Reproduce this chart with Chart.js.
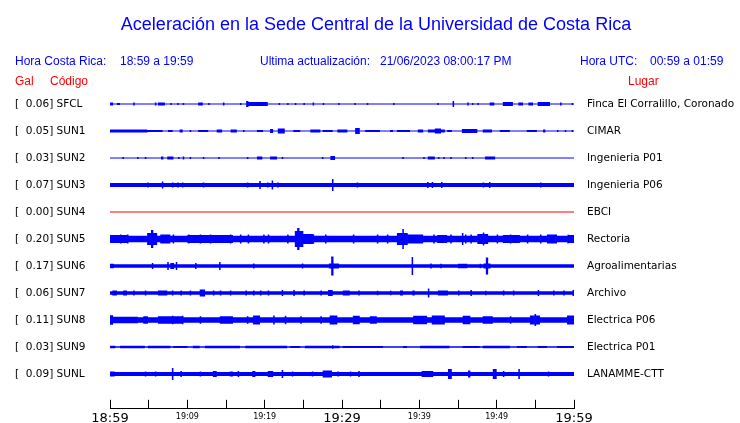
<!DOCTYPE html>
<html><head><meta charset="utf-8">
<script src="https://cdn.jsdelivr.net/npm/chart.js@4"></script>
<style>html,body{margin:0;padding:0;background:#fff;overflow:hidden}#wrap{width:740px;height:423px;position:relative}</style>
</head><body><div id="wrap"><canvas id="c" width="740" height="423"></canvas></div>
<script>
// ---------- DATA ----------
const titleText = 'Aceleración en la Sede Central de la Universidad de Costa Rica';
const headerCR = ['Hora Costa Rica:', '18:59 a 19:59'];
const headerUpd = ['Ultima actualización:', '21/06/2023 08:00:17 PM'];
const headerUTC = ['Hora UTC:', '00:59 a 01:59'];
const colHeads = ['Gal', 'Código', 'Lugar'];
const stations = ['SFCL','SUN1','SUN2','SUN3','SUN4','SUN5','SUN6','SUN7','SUN8','SUN9','SUNL'];
const peakGal = [0.06,0.05,0.03,0.07,0.00,0.20,0.17,0.06,0.11,0.03,0.09];
const places = ['Finca El Corralillo, Coronado','CIMAR','Ingenieria P01','Ingenieria P06','EBCI','Rectoria','Agroalimentarias','Archivo','Electrica P06','Electrica P01','LANAMME-CTT'];
const tickLabels = ['18:59','','19:09','','19:19','','19:29','','19:39','','19:49','','19:59'];
const majorTickLabels = ['18:59','19:29','19:59'];
// background half-amplitude of each trace (display counts)
const baseAmp = [0.5,0.5,0.5,2,0.5,3.3,1.7,1.7,2.8,0.7,2];
// envelope events: [startMin, endMin, halfAmp] or [min, halfAmp] (single spike)
const ev_SFCL = [[0,0.4,1.5],[0.9,1.3,1],[3.0,1.5],[5.8,1.5],[6.2,7.1,1.5],[7.8,1],[8.7,1],[9.4,1],[11.4,12.0,1.5],[12.7,1],[14.6,1.5],[16.8,1],[17.6,17.9,3],[17.9,20.4,2],[21.8,1],[22.9,1],[23.9,1],[25.0,1],[26.2,1.5],[27.5,1],[29.5,1],[31.6,1],[33.2,1],[36.6,1],[42.3,1],[44.3,44.5,3],[46.2,1.5],[46.8,1],[47.5,1],[49.1,49.7,1.5],[50.8,52.1,2],[52.8,53.4,1.5],[54.1,54.7,1.5],[55.3,56.9,2],[58.2,1.5],[59.7,1]];
const ev_SUN1 = [[0,4.8,1.4],[4.9,6.8,1],[7.5,8.1,1],[9.0,9.4,1.5],[10.3,1],[11.4,12.7,1],[13.8,14.5,1.5],[15.6,16.4,1.5],[17.2,1],[19.0,19.8,1],[20.7,21.1,2],[21.7,22.6,2.5],[23.7,24.6,1],[25.9,27.2,1.5],[27.5,28.8,1],[29.4,30.7,1.5],[31.7,32.3,3],[33.0,34.9,1],[36.2,36.6,1],[37.1,38.8,1],[39.8,40.5,1.5],[41.1,43.3,1.5],[42.0,42.8,2.5],[43.6,44.2,1],[45.5,47.5,2],[48.2,49.4,1.5],[50.4,51.7,1],[53.9,55.2,1],[56.0,56.3,1.5],[57.8,1],[58.8,1],[59.7,1]];
const ev_SUN2 = [[1.6,1],[3.5,1],[4.5,1],[6.6,6.9,1.5],[7.4,8.2,1.5],[8.8,1],[9.4,1.5],[10.3,1],[12.0,1],[14.0,1],[17.7,1],[19.0,19.7,1.5],[20.7,21.6,1.5],[22.2,1],[27.4,1],[28.5,29.1,2],[37.8,1],[40.5,1],[41.1,42.0,1.5],[42.4,1],[43.1,1],[44.0,1],[45.9,1],[46.8,1],[48.5,49.8,1.5]];
const ev_SUN3 = [[4.8,2.5],[6.7,3.5],[8.0,2.5],[8.7,2.5],[9.3,2.5],[12.0,2.5],[17.7,2.5],[19.3,4],[20.3,2.5],[20.9,4.5],[21.6,2.5],[28.7,6],[31.9,2.5],[41.0,3],[41.6,3],[42.8,3],[48.2,2.5],[49.0,3],[55.6,2.5]];
const ev_SUN4 = [];
const ev_SUN5 = [[0,2.2,4],[1.3,4.5],[2.2,4.5],[4.8,6.1,6],[5.3,5.6,9],[6.5,7.8,4.5],[8.1,4.5],[10.0,15.9,4],[10.1,4.5],[11.6,4.5],[12.9,4.5],[15.5,4.5],[16.8,4.5],[17.8,4.5],[19.8,4.5],[20.4,4.5],[22.9,4.5],[23.9,25.0,8],[24.2,24.5,11],[25.0,26.3,5],[26.2,4.5],[27.8,4.5],[31.4,4.5],[34.5,4.5],[35.8,4.5],[37.1,38.5,6],[37.8,38.0,10],[38.5,40.5,4.5],[41.8,4.5],[42.3,43.6,4],[44.0,4.5],[45.5,6],[45.9,4.5],[46.6,4.5],[47.5,48.9,5],[48.2,6.5],[50.0,4.5],[50.8,53.0,4],[51.7,4.5],[53.9,4.5],[55.6,4.5],[56.5,57.8,4.5],[59.1,4.5],[59.2,60,4]];
const ev_SUN6 = [[0,0.5,2.2],[5.4,3],[7.4,4],[7.8,8.3,3],[8.5,4],[11.0,3],[14.1,4],[18.5,2.5],[24.8,2.5],[28.3,29.6,2.5],[28.6,28.9,9.5],[39.0,39.2,9],[41.4,2.5],[42.7,2.2],[45.0,46.2,2.2],[47.8,2.2],[48.3,49.2,2.5],[48.6,48.9,8.5]];
const ev_SUN7 = [[0.3,0.9,2.5],[1.7,2.2,2.5],[3.0,2.5],[4.5,2.5],[6.2,7.4,2.5],[8.0,2.5],[9.1,2.5],[10.3,2.5],[11.6,12.3,3.5],[13.3,2.5],[14.2,2.5],[15.5,2.5],[17.5,2.5],[18.5,2.5],[19.4,2.5],[20.4,2.5],[22.2,3],[23.7,3],[25.0,2.5],[27.2,2.5],[28.2,28.8,3],[30.1,31.0,2.5],[32.1,2.5],[34.5,2.2],[36.2,2.2],[37.5,37.9,2.5],[39.1,39.4,2.5],[41.1,4.5],[42.4,43.7,2.5],[45.0,2.5],[46.6,3],[48.5,2.2],[50.8,2.5],[52.1,2.5],[55.3,3],[57.3,2.5],[58.6,2.5],[59.8,60,3]];
const ev_SUN8 = [[0,0.4,4.7],[0.4,3.6,3.2],[4.3,4.9,3.7],[6.2,9.5,3.7],[8.0,4.2],[9.3,4.2],[11.6,3.7],[14.2,15.9,3.7],[17.7,3.7],[18.5,19.4,4.5],[21.1,4.5],[22.6,4.2],[24.6,3.7],[27.2,3.7],[28.4,29.4,4.5],[31.4,32.3,4.2],[33.6,34.5,3.7],[39.2,41.0,4.2],[41.6,43.3,4.5],[45.6,46.6,4.2],[48.2,49.5,3.7],[51.7,3.7],[54.3,55.6,4.5],[54.9,55.1,6],[59.1,60,4.5]];
const ev_SUN9 = [[0,0.7,1.2],[1.3,4.5,1.2],[4.9,7.8,1.2],[8.2,10.0,1],[10.7,11.6,1.2],[12.3,16.8,1.2],[17.5,22.9,1.2],[23.3,24.6,0.9],[25.2,29.7,1.2],[28.7,1.8],[30.1,33.6,1],[33.6,35.3,0.9],[37.9,38.4,0.9],[40.1,43.9,1.2],[45.6,47.8,1.1],[48.2,51.7,1.2],[52.6,53.9,0.9],[55.3,56.5,1.1],[57.8,60,0.9]];
const ev_SUNL = [[0,0.6,2.5],[4.5,2.5],[5.8,2.5],[8.0,6],[9.1,3],[11.6,2.5],[13.3,13.8,3],[15.5,15.9,2.5],[16.5,3],[18.4,18.8,3],[20.4,21.1,3],[22.2,4],[23.5,2.5],[26.1,2.5],[27.5,28.7,3.5],[29.4,2.5],[31.0,2.5],[32.1,32.3,3],[40.3,41.8,3],[43.7,44.2,5],[46.3,46.6,3.5],[49.5,50.0,5],[50.8,3],[52.8,53.0,5],[56.6,2.5]];
const events = [ev_SFCL, ev_SUN1, ev_SUN2, ev_SUN3, ev_SUN4, ev_SUN5, ev_SUN6, ev_SUN7, ev_SUN8, ev_SUN9, ev_SUNL];

// ---------- STYLE ----------
const BLUE = '#0000ff', RED = '#ff0000';
const AMP_UNIT = 1 / 27;   // display count -> trace spacing
const SPIKE_W = 0.2;       // minutes, width of a single spike
const T_MIN = 0, T_MAX = 60;

// piecewise-constant envelope: list of [x0, x1, amp] intervals
function envelope(base, evs) {
  const spans = evs.map(e => e.length === 3 ? e : [e[0], e[0] + SPIKE_W, e[1]]);
  const edges = new Set([T_MIN, T_MAX]);
  spans.forEach(s => { edges.add(Math.max(T_MIN, s[0])); edges.add(Math.min(T_MAX, s[1])); });
  const xs = [...edges].sort((a, b) => a - b);
  const out = [];
  for (let k = 0; k < xs.length - 1; k++) {
    const mid = (xs[k] + xs[k + 1]) / 2;
    let a = base;
    spans.forEach(s => { if (mid > s[0] && mid < s[1]) a = Math.max(a, s[2]); });
    out.push([xs[k], xs[k + 1], a]);
  }
  return out;
}
// corner points of the step outline
function outline(env, center, sign) {
  const pts = [];
  env.forEach(([x0, x1, a]) => {
    pts.push({ x: x0, y: center + sign * a * AMP_UNIT });
    pts.push({ x: x1, y: center + sign * a * AMP_UNIT });
  });
  return pts;
}

const datasets = [];
stations.forEach((st, i) => {
  const env = envelope(baseAmp[i], events[i]);
  const col = peakGal[i] === 0 ? RED : BLUE;
  const common = { type: 'line', pointRadius: 0, borderWidth: 1, tension: 0,
    borderColor: 'rgba(0,0,0,0)', backgroundColor: col, yAxisID: 'y', xAxisID: 'x' };
  datasets.push(Object.assign({}, common, { label: st, fill: '+1', data: outline(env, i, -1) }));
  datasets.push(Object.assign({}, common, { label: st + '_lo', fill: false, data: outline(env, i, 1) }));
});

const stationTicks = s => { s.ticks = stations.map((_, i) => ({ value: i })); };
const noPad = s => { s.paddingTop = 0; s.paddingBottom = 0; s.paddingLeft = 0; s.paddingRight = 0; };

const headerPlugin = {
  id: 'header',
  afterDraw(chart) {
    const ctx = chart.ctx;
    ctx.save();
    ctx.textBaseline = 'alphabetic';
    ctx.fillStyle = BLUE;
    ctx.font = '18px "Liberation Sans", Arial, sans-serif';
    ctx.textAlign = 'center';
    ctx.fillText(titleText, 376, 29.5);
    ctx.textAlign = 'left';
    ctx.font = '12px "Liberation Sans", Arial, sans-serif';
    ctx.fillText(headerCR[0], 15, 65);
    ctx.fillText(headerCR[1], 120, 65);
    ctx.fillText(headerUpd[0], 260, 65);
    ctx.fillText(headerUpd[1], 380, 65);
    ctx.fillText(headerUTC[0], 580, 65);
    ctx.fillText(headerUTC[1], 650, 65);
    ctx.fillStyle = RED;
    ctx.fillText(colHeads[0], 15, 84.5);
    ctx.fillText(colHeads[1], 50, 84.5);
    ctx.fillText(colHeads[2], 628, 84.5);
    ctx.restore();
  }
};

Chart.defaults.font.family = '"DejaVu Sans", sans-serif';
Chart.defaults.color = '#000';

new Chart(document.getElementById('c'), {
  type: 'line',
  data: { datasets },
  plugins: [headerPlugin],
  options: {
    responsive: false,
    animation: false,
    devicePixelRatio: 1,
    events: [],
    layout: { padding: { left: 15, right: 0, top: 87.8, bottom: 0 } },
    plugins: { legend: { display: false }, tooltip: { enabled: false }, title: { display: false } },
    scales: {
      x: {
        type: 'linear', min: T_MIN, max: T_MAX, offset: false,
        grid: { display: true, drawOnChartArea: false, drawTicks: true, tickLength: -9, color: '#000', lineWidth: 1 },
        border: { display: true, color: '#000', width: 1 },
        ticks: {
          stepSize: 5, autoSkip: false, maxRotation: 0, minRotation: 0, padding: 10.7, color: '#000',
          callback: (v, idx) => tickLabels[idx],
          font: ctx => majorTickLabels.includes(tickLabels[ctx.index])
            ? { family: '"DejaVu Sans", sans-serif', size: 13, lineHeight: '15.4px' }
            : { family: '"DejaVu Sans", sans-serif', size: 8, lineHeight: '13.4px' }
        },
        afterFit: s => { s.height = 14.2; noPad(s); }
      },
      y: {
        type: 'linear', position: 'left', reverse: true, min: -0.6, max: 11.29,
        grid: { display: false }, border: { display: false },
        afterBuildTicks: stationTicks,
        ticks: {
          autoSkip: false, crossAlign: 'far', padding: 0, color: '#000',
          font: { family: '"DejaVu Sans", sans-serif', size: 10.5 },
          callback: (v, idx) => '[' + peakGal[idx].toFixed(2).padStart(6, ' ') + '] ' + stations[idx]
        },
        afterFit: s => { s.width = 95; noPad(s); }
      },
      y2: {
        type: 'linear', position: 'right', reverse: true, min: -0.6, max: 11.29,
        grid: { display: false, drawTicks: false }, border: { display: false },
        afterBuildTicks: stationTicks,
        ticks: {
          autoSkip: false, crossAlign: 'near', padding: 13, color: '#000',
          font: { family: '"DejaVu Sans", sans-serif', size: 10.5 },
          callback: (v, idx) => places[idx]
        },
        afterFit: s => { s.width = 166; noPad(s); }
      }
    }
  }
});
</script>
</body></html>
